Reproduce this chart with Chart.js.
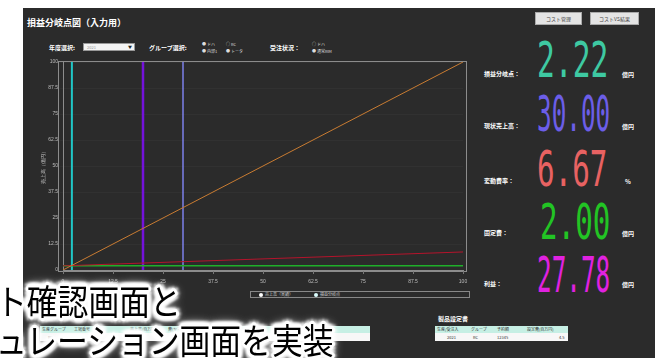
<!DOCTYPE html>
<html lang="ja">
<head>
<meta charset="utf-8">
<title>損益分岐点図（入力用）</title>
<script src="https://cdn.jsdelivr.net/npm/chart.js"></script>
<style>
    body {
        margin: 0;
        width: 667px;
        height: 358px;
        overflow: hidden;
        position: relative;
        background: #fff;
        font-family: "Noto Sans CJK JP", sans-serif;
    }
    .abs { position: absolute; white-space: nowrap; }
    #panel { left: 23px; top: 8px; width: 632px; height: 350px; background: #2b2b2b; }
    #title { left: 27px; top: 16px; color: #fff; font-size: 9px; font-weight: bold; }
    .btn {
        top: 12px; height: 11px; background: #e4e4e4; border: 1px solid #aaa;
        color: #444; font-size: 5px; line-height: 11px; text-align: center;
    }
    .ctl { color: #fff; font-size: 6px; font-weight: bold; }
    .radio { color: #ddd; font-size: 4px; }
    #yearSelect {
        left: 83px; top: 43px; width: 52px; height: 8px; background: #f4f4f4;
        border: 1px solid #999; box-sizing: border-box; font-size: 4px; color: #999;
        line-height: 6px; padding-left: 3px;
    }
    #yearSelect span { position: absolute; right: 2px; top: 0; color: #222; font-size: 4px; }
    #chartWrap { left: 23px; top: 56px; width: 452px; height: 232px; }
    #legend {
        left: 250px; top: 291px; width: 220px; height: 7px; border: 1px solid #888;
        box-sizing: border-box; font-size: 4px; color: #ccc; line-height: 5px;
    }
    #legend .item { position: absolute; top: 0; }
    #legend .dot {
        display: inline-block; width: 4px; height: 4px; border-radius: 2px;
        background: #fff; margin-right: 2px; vertical-align: middle;
    }
    .sumLabel { color: #fff; font-size: 6px; font-weight: bold; }
    .sumUnit { color: #fff; font-size: 6px; font-weight: bold; }
    .sumValue {
        font-family: "DejaVu Sans Mono", monospace; font-size: 28px; line-height: 28px;
        transform-origin: 0 0;
    }
    .tbl { font-size: 4px; color: #333; }
    .tbl .head { position: absolute; left: 0; right: 0; top: 0; height: 7px; background: #c6efe4; line-height: 7px; }
    .tbl .row { position: absolute; left: 0; right: 0; top: 7px; height: 8px; background: #f7f7f7; line-height: 8px; }
    .tbl span { position: absolute; }
    #tblTitle { left: 438px; top: 314px; color: #fff; font-size: 6px; font-weight: bold; }
    .caption {
        left: -4px; color: #000; font-size: 35px; line-height: 35px; z-index: 10;
        transform: scaleX(0.88); transform-origin: 0 0;
        text-shadow:
            3px 0 1px #fff, -3px 0 1px #fff, 0 3px 1px #fff, 0 -3px 1px #fff,
            2px 2px 1px #fff, -2px -2px 1px #fff, 2px -2px 1px #fff, -2px 2px 1px #fff,
            3px 1px 1px #fff, -3px 1px 1px #fff, 3px -1px 1px #fff, -3px -1px 1px #fff,
            1px 3px 1px #fff, -1px 3px 1px #fff, 1px -3px 1px #fff, -1px -3px 1px #fff,
            5px 0 3px #fff, -5px 0 3px #fff, 0 5px 3px #fff, 0 -5px 3px #fff,
            4px 4px 3px #fff, -4px -4px 3px #fff, 4px -4px 3px #fff, -4px 4px 3px #fff,
            0 0 10px #fff, 0 0 12px #fff, 0 0 14px #fff;
    }
</style>
</head>
<body>
<div id="panel" class="abs"></div>
<div id="title" class="abs">損益分岐点図（入力用）</div>
<div class="abs btn" style="left:535px;width:45px;">コスト管理</div>
<div class="abs btn" style="left:590px;width:47px;">コストVS結果</div>

<div class="abs ctl" style="left:49px;top:43px;">年度選択:</div>
<div id="yearSelect" class="abs">2021<span>▼</span></div>
<div class="abs ctl" style="left:149px;top:43px;">グループ選択:</div>
<div class="abs radio" style="left:202px;top:41px;">● ドハ</div>
<div class="abs radio" style="left:226px;top:41px;">○ RC</div>
<div class="abs radio" style="left:202px;top:48px;">● 内部1</div>
<div class="abs radio" style="left:226px;top:48px;">● トータ</div>
<div class="abs ctl" style="left:270px;top:43px;">受注状況：</div>
<div class="abs radio" style="left:312px;top:41px;">○ ドハ</div>
<div class="abs radio" style="left:312px;top:48px;">● 通常RIM</div>

<div id="chartWrap" class="abs"><canvas id="breakEvenChart" width="452" height="232"></canvas></div>
<div id="legend" class="abs"></div>

<div id="summary"></div>

<div class="abs tbl" style="left:40px;top:326px;width:330px;height:15px;">
    <div class="head">
        <span style="left:2px;">生産グループ</span><span style="left:34px;">工場番号</span>
        <span style="left:90px;">売上高(百万円)</span><span style="left:128px;">費(ヤマ)(kg)</span>
    </div>
    <div class="row"><span style="left:8px;">RC</span><span style="left:34px;">1001</span></div>
</div>
<div id="tblTitle" class="abs">製品設定書</div>
<div class="abs tbl" style="left:435px;top:326px;width:133px;height:15px;">
    <div class="head">
        <span style="left:2px;">生産/受注入</span><span style="left:36px;">グループ</span>
        <span style="left:62px;">予約額</span><span style="left:92px;">設定費(百万円)</span>
    </div>
    <div class="row">
        <span style="left:12px;">2021</span><span style="left:38px;">RC</span>
        <span style="left:62px;">12345</span><span style="left:124px;">4.5</span>
    </div>
</div>

<div class="abs caption" style="top:282px;">ト確認画面と</div>
<div class="abs caption" style="top:321px;">ュレーション画面を実装</div>

<script>
// break-even chart values (億円)
const xRange = [0, 100];
const yRange = [0, 100];
const salesLine = [0, 100];
const totalCostLine = [2.00, 8.67];
const fixedCostLine = [2.00, 2.00];
const markerLabels = ['損益分岐点', '目標売上高', '現状売上高'];
const markerX = [2.22, 20.00, 30.00];
const axisTicks = [0, 12.5, 25, 37.5, 50, 62.5, 75, 87.5, 100];
const legendLabels = ['売上高（実績）', '損益分岐点'];

// right hand summary
const summaryLabels = ['損益分岐点：', '現状売上高：', '変動費率：', '固定費：', '利益：'];
const summaryValues = ['2.22', '30.00', '6.67', '2.00', '27.78'];
const summaryUnits = ['億円', '億円', '%', '億円', '億円'];

const markerColors = ['#20c6c6', '#7412dc', '#7c80ea'];
const markerWidths = [2, 2.5, 1.5];

function toPoints(xs, ys) {
    return xs.map((x, i) => ({ x: x, y: ys[i] }));
}

const datasets = [
    {
        label: '売上高（実績）',
        data: toPoints(xRange, salesLine),
        borderColor: '#c97c32',
        borderWidth: 1,
    },
    {
        label: '総費用',
        data: toPoints(xRange, totalCostLine),
        borderColor: '#b5142c',
        borderWidth: 1,
    },
    {
        label: '固定費',
        data: toPoints(xRange, fixedCostLine),
        borderColor: '#1faf2a',
        borderWidth: 1.5,
    },
];
markerLabels.forEach((label, i) => {
    datasets.push({
        label: label,
        data: toPoints([markerX[i], markerX[i]], yRange),
        borderColor: markerColors[i],
        borderWidth: markerWidths[i],
    });
});

// outer frame around the plot
const plotFrame = {
    id: 'plotFrame',
    beforeDraw(chart) {
        const a = chart.chartArea;
        const ctx = chart.ctx;
        ctx.save();
        ctx.strokeStyle = '#8c8c8c';
        ctx.lineWidth = 1;
        ctx.strokeRect(a.left - 4.5, a.top - 0.5, a.right - a.left + 8, a.bottom - a.top + 2);
        ctx.restore();
    }
};

const ctx = document.getElementById('breakEvenChart').getContext('2d');
const breakEvenChart = new Chart(ctx, {
    type: 'scatter',
    data: { datasets: datasets },
    options: {
        responsive: false,
        animation: false,
        showLine: true,
        elements: { point: { radius: 0 }, line: { tension: 0 } },
        layout: { padding: { left: 18, right: 12, top: 6, bottom: 0 } },
        scales: {
            x: {
                min: 0,
                max: 100,
                afterBuildTicks: function(scale) {
                    scale.ticks = axisTicks.map(v => ({ value: v }));
                },
                afterFit: function(scale) { scale.height = 18; },
                grid: { drawOnChartArea: false, color: '#777', tickLength: 4 },
                border: { color: '#8c8c8c' },
                ticks: { color: '#bbb', font: { size: 5 }, padding: 5, maxRotation: 0 }
            },
            y: {
                min: 0,
                max: 100,
                afterBuildTicks: function(scale) {
                    scale.ticks = axisTicks.map(v => ({ value: v }));
                },
                afterFit: function(scale) { scale.width = 22; },
                grid: { color: 'rgba(255,255,255,0.03)', tickLength: 3 },
                border: { color: '#8c8c8c' },
                ticks: { color: '#bbb', font: { size: 5 }, padding: 2 },
                title: {
                    display: true,
                    text: '売上高（億円）',
                    color: '#ccc',
                    font: { size: 5 },
                    padding: 0
                }
            }
        },
        plugins: {
            legend: { display: false },
            tooltip: { enabled: false }
        }
    },
    plugins: [plotFrame]
});

// legend built from the labels
const legendBox = document.getElementById('legend');
const legendLeft = [8, 63];
legendLabels.forEach((label, i) => {
    const item = document.createElement('div');
    item.className = 'item';
    item.style.left = legendLeft[i] + 'px';
    item.innerHTML = '<span class="dot"' + (i === 1 ? ' style="background:#dff"' : '') + '></span>' + label;
    legendBox.appendChild(item);
});

// summary panel
const summaryColors = ['#3ec9a2', '#6c5ee8', '#e86262', '#22c424', '#e022e0'];
const summaryTop = [37, 91, 146, 199, 252];
const summaryWidth = [71, 73, 70, 70, 73];
const summaryX = [537, 537, 537, 540, 537];
const labelTop = [69, 121, 176, 228, 279];
const summary = document.getElementById('summary');
summaryLabels.forEach((label, i) => {
    const l = document.createElement('div');
    l.className = 'abs sumLabel';
    l.style.left = '484px';
    l.style.top = labelTop[i] + 'px';
    l.textContent = label;
    summary.appendChild(l);

    const v = document.createElement('div');
    v.className = 'abs sumValue';
    v.style.left = summaryX[i] + 'px';
    v.style.top = summaryTop[i] + 'px';
    v.style.color = summaryColors[i];
    v.textContent = summaryValues[i];
    summary.appendChild(v);
    v.style.transform = 'scale(' + (summaryWidth[i] / v.offsetWidth) + ', 1.75)';

    const u = document.createElement('div');
    u.className = 'abs sumUnit';
    u.style.left = (summaryUnits[i] === '%' ? 625 : 622) + 'px';
    u.style.top = (labelTop[i] + 1) + 'px';
    u.textContent = summaryUnits[i];
    summary.appendChild(u);
});
</script>
</body>
</html>
